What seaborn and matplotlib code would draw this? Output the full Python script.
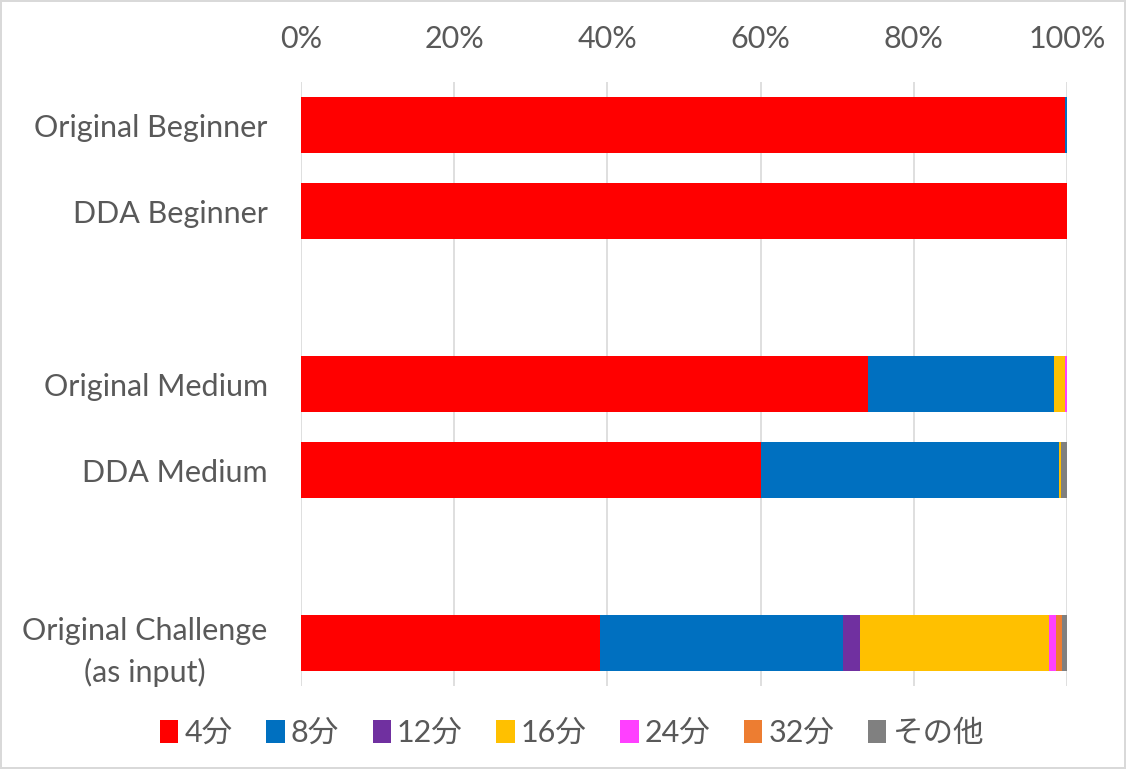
import matplotlib
matplotlib.use("Agg")
import matplotlib.pyplot as plt
from matplotlib.patches import Patch
from matplotlib.ticker import PercentFormatter
import numpy as np
import pandas as pd
import seaborn as sns

# Row labels (blank strings keep the gaps between difficulty groups)
categories = ["Original Beginner", "DDA Beginner", " ",
              "Original Medium", "DDA Medium", "  ",
              "Original Challenge\n(as input)"]

# Share of each note division per chart, in percent
series_names = ["4分", "8分", "12分", "16分", "24分", "32分", "その他"]
note_4 = [99.8, 100.0, 0, 74.0, 60.1, 0, 39.0]
note_8 = [0.2, 0.0, 0, 24.3, 38.9, 0, 31.7]
note_12 = [0.0, 0.0, 0, 0.0, 0.0, 0, 2.3]
note_16 = [0.0, 0.0, 0, 1.5, 0.2, 0, 24.7]
note_24 = [0.0, 0.0, 0, 0.2, 0.0, 0, 0.8]
note_32 = [0.0, 0.0, 0, 0.0, 0.0, 0, 0.8]
note_other = [0.0, 0.0, 0, 0.0, 0.8, 0, 0.7]

colors = ["#FF0000", "#0070C0", "#7030A0", "#FFC000", "#FF40FF", "#ED7D31", "#808080"]

sns.set_style("white")
plt.rcParams["font.family"] = ["Lato", "Noto Sans CJK JP", "DejaVu Sans"]
text_color = "#595959"
fs = 22

series = [note_4, note_8, note_12, note_16, note_24, note_32, note_other]
df = pd.DataFrame({"category": categories})
cum = np.zeros(len(categories))
for name, vals in zip(series_names, series):
    cum = cum + np.array(vals, dtype=float)
    df[name] = cum / 100.0

fig = plt.figure(figsize=(11.26, 7.69), dpi=100)
fig.patch.set_edgecolor("#D9D9D9")
fig.patch.set_linewidth(1.5)
ax = fig.add_axes([301 / 1126, 1 - 686 / 769, 766 / 1126, (686 - 82) / 769])

# Stacked bars: draw cumulative totals from the outermost segment inward
for name, color in reversed(list(zip(series_names, colors))):
    sns.barplot(data=df, x=name, y="category", order=categories, color=color,
                orient="h", width=0.65, linewidth=0, saturation=1, ax=ax)

ax.set_xlim(0, 1)
ax.set_ylim(6.5, -0.5)
ax.xaxis.set_major_formatter(PercentFormatter(1.0, decimals=0))
ax.set_xticks(np.linspace(0, 1, 6))
ax.xaxis.tick_top()
ax.grid(axis="x", color="#D9D9D9", linewidth=1.2)
ax.set_axisbelow(True)
for s in ax.spines.values():
    s.set_visible(False)
ax.tick_params(axis="x", length=0, pad=21, labelsize=fs, labelcolor=text_color)
ax.tick_params(axis="y", length=0, pad=24, labelsize=fs, labelcolor=text_color)
ax.set_xlabel("")
ax.set_ylabel("")
for lbl in ax.get_yticklabels():
    lbl.set_horizontalalignment("right")
    lbl.set_multialignment("center")
    lbl.set_linespacing(1.55)
    lbl.set_verticalalignment("center_baseline")

handles = [Patch(facecolor=c, edgecolor="none") for c in colors]
fig.legend(handles, series_names, loc="center", bbox_to_anchor=(572 / 1126, 1 - 733 / 769),
           ncol=7, frameon=False, fontsize=fs, labelcolor=text_color,
           handlelength=0.6, handleheight=0.8, handletextpad=0.2, columnspacing=1.1)

fig.savefig("out.png", dpi=100, edgecolor=fig.get_edgecolor())
